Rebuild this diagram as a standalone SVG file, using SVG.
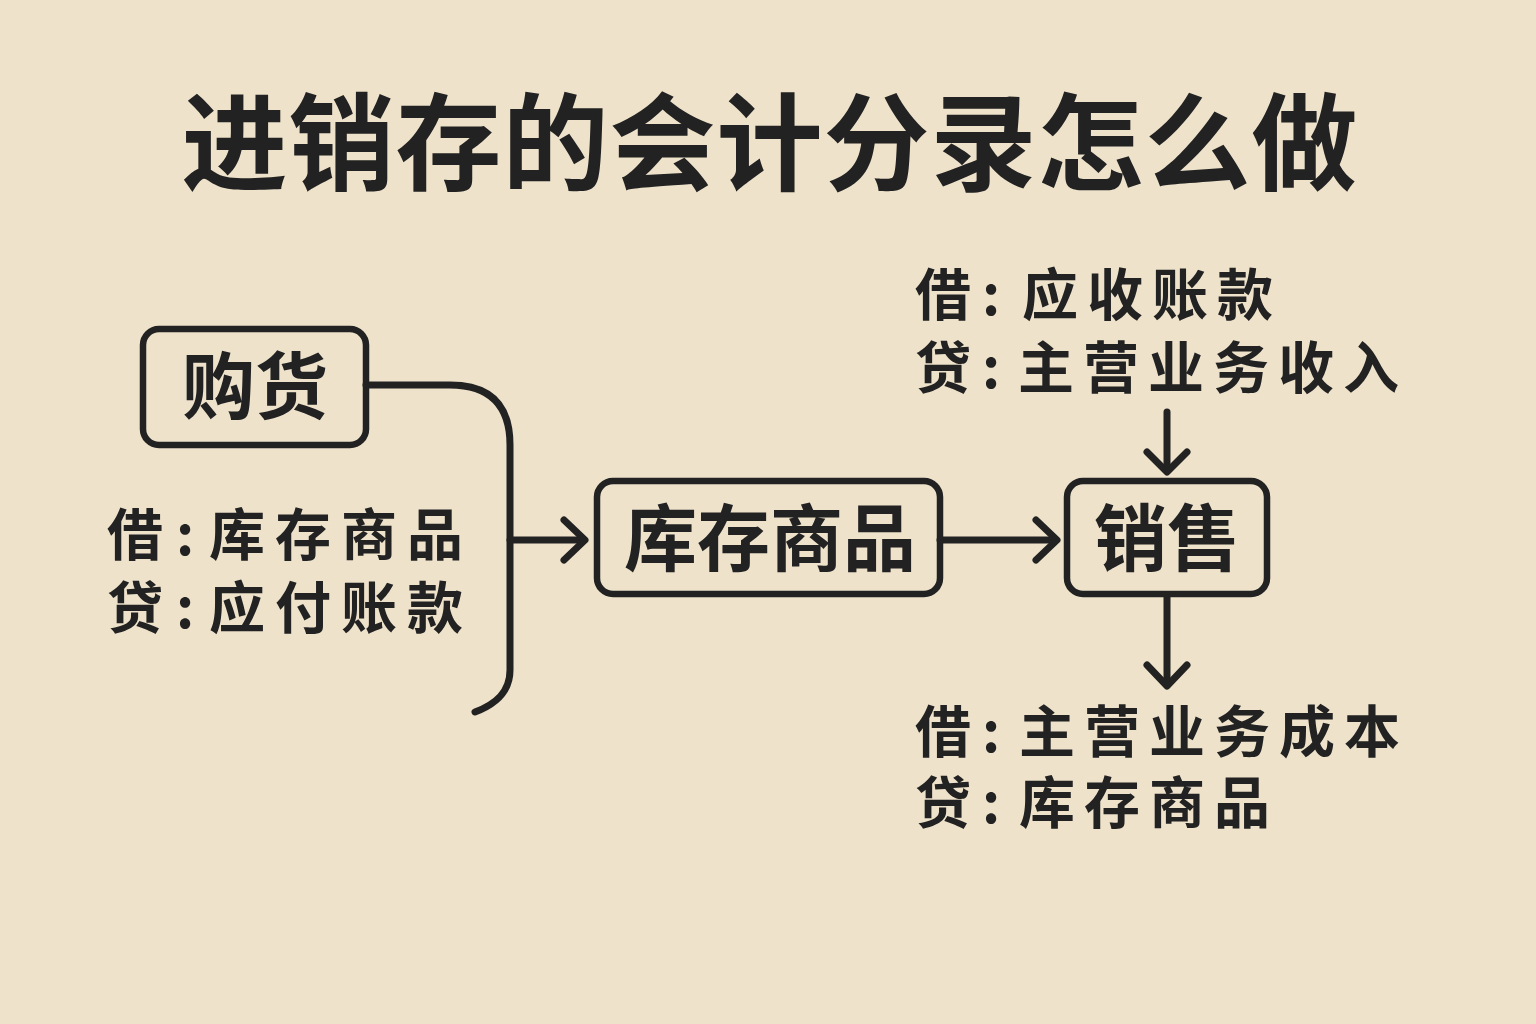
<svg xmlns="http://www.w3.org/2000/svg" width="1536" height="1024" viewBox="0 0 1536 1024">
<style>
.box{fill:none;stroke:#222;stroke-width:6.5}
.conn{fill:none;stroke:#222;stroke-width:7;stroke-linecap:round;stroke-linejoin:round}
.t{font-family:"Noto Sans CJK SC","Noto Sans",sans-serif;fill:#222;font-weight:700}
.title{font-size:106px;text-anchor:middle;letter-spacing:1px}
.node{font-size:73px;text-anchor:middle}
.lbl{font-size:56px}
.sp{letter-spacing:10px}
.sp2{letter-spacing:9px}
</style>
<rect width="1536" height="1024" fill="#EEE2CB"/>
<text class="t title" x="770" y="182">进销存的会计分录怎么做</text>

<g id="connectors">
  <path class="conn" d="M366,385 H450 Q510,385 510,445 V670 C510,692 496,704 475,712"/>
  <path class="conn" d="M510,540 H583"/>
  <path class="conn" d="M564,520 L585,540 L564,560"/>
  <path class="conn" d="M940,540 H1054"/>
  <path class="conn" d="M1036,520 L1057,540 L1036,560"/>
  <path class="conn" d="M1167,412 V470"/>
  <path class="conn" d="M1147,452 L1167,472 L1187,452"/>
  <path class="conn" d="M1167,596 V684"/>
  <path class="conn" d="M1147,665 L1167,686 L1187,665"/>
</g>

<g id="node-purchase">
  <rect class="box" x="143" y="329" width="223" height="116" rx="16"/>
  <text class="t node" x="255" y="413">购货</text>
</g>
<g id="node-inventory">
  <rect class="box" x="597" y="481" width="343" height="113" rx="16"/>
  <text class="t node" x="770" y="565">库存商品</text>
</g>
<g id="node-sales">
  <rect class="box" x="1067" y="481" width="200" height="113" rx="16"/>
  <text class="t node" x="1167" y="565">销售</text>
</g>

<g id="label-purchase">
  <text class="t lbl"><tspan x="107" y="555">借</tspan><tspan x="185" y="555" text-anchor="middle">:</tspan><tspan class="sp" x="209" y="555">库存商品</tspan></text>
  <text class="t lbl"><tspan x="107" y="628">贷</tspan><tspan x="185" y="628" text-anchor="middle">:</tspan><tspan class="sp" x="209" y="628">应付账款</tspan></text>
</g>
<g id="label-sales-revenue">
  <text class="t lbl"><tspan x="915" y="315">借</tspan><tspan x="991" y="315" text-anchor="middle">:</tspan><tspan class="sp2" x="1022" y="315">应收账款</tspan></text>
  <text class="t lbl"><tspan x="915" y="388">贷</tspan><tspan x="991" y="388" text-anchor="middle">:</tspan><tspan class="sp2" x="1018" y="388">主营业务收入</tspan></text>
</g>
<g id="label-sales-cost">
  <text class="t lbl"><tspan x="915" y="752">借</tspan><tspan x="991" y="752" text-anchor="middle">:</tspan><tspan class="sp2" x="1019" y="752">主营业务成本</tspan></text>
  <text class="t lbl"><tspan x="915" y="823">贷</tspan><tspan x="991" y="823" text-anchor="middle">:</tspan><tspan class="sp2" x="1019" y="823">库存商品</tspan></text>
</g>
</svg>
